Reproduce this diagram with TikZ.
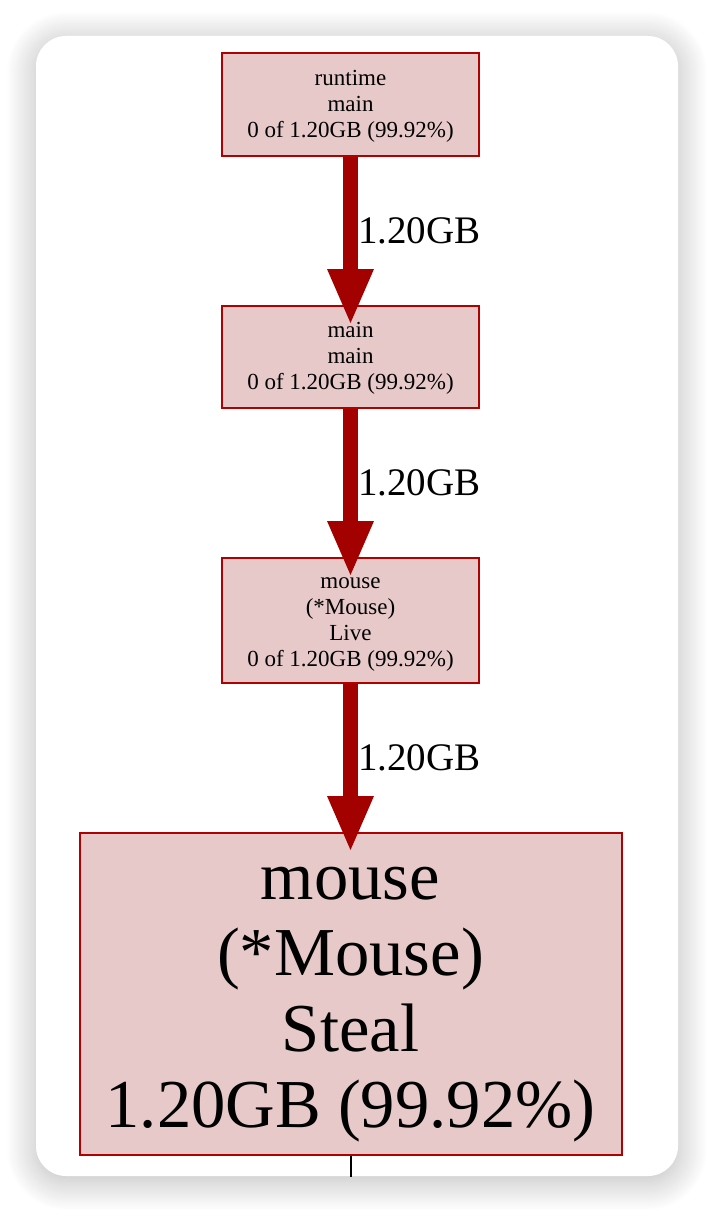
\documentclass[tikz,border=0pt]{standalone}
\usepackage{fontspec}
\setmainfont{Liberation Serif}
\usepackage{tikz}
\usepackage{color}
\usetikzlibrary{positioning,arrows.meta,shadows.blur}
\definecolor{edgered}{HTML}{A30000}
\definecolor{boxred}{HTML}{B00000}
\definecolor{boxfill}{HTML}{E8C9C9}

\begin{document}
\begin{tikzpicture}[x=1pt,y=1pt,
            func/.style={
                rectangle, draw=boxred, fill=boxfill, line width=2pt,
                minimum width=257pt, inner sep=0pt, align=center,
                font=\fontsize{23}{26}\selectfont},
            leaf/.style={func, minimum width=542pt, minimum height=322pt,
                font=\fontsize{68.6}{76}\selectfont},
            flow/.style={draw=edgered, line width=15pt, shorten >=-18pt,
                -{Triangle[width=47pt,length=54pt,line width=0pt]}},
            weight/.style={right, inner sep=0pt,
                font=\fontsize{39}{39}\selectfont},
            node distance=148pt]

            \useasboundingbox (0,0) rectangle (714,-1212);
            \fill [white, rounded corners=30pt,
                blur shadow={shadow xshift=0pt, shadow yshift=-5pt,
                shadow blur radius=30pt, shadow blur steps=40,
                shadow opacity=28}]
                (36,-36) rectangle (678,-1176);

            \node [func, minimum height=103pt] (n0) at (350.5,-104.5)
                {\strut runtime\\main\\0 of 1.20GB (99.92\%)};
            \node [func, minimum height=102pt, below=of n0] (n1)
                {\strut main\\main\\0 of 1.20GB (99.92\%)};
            \node [func, minimum height=125pt, below=of n1] (n2)
                {\strut mouse\\(*Mouse)\\Live\\0 of 1.20GB (99.92\%)};
            \node [leaf, below=of n2] (n3)
                {\strut mouse\\(*Mouse)\\Steal\\1.20GB (99.92\%)};

            \draw [flow] (n0) -- node [weight] {1.20GB} (n1);
            \draw [flow] (n1) -- node [weight] {1.20GB} (n2);
            \draw [flow] (n2) -- node [weight] {1.20GB} (n3);

            \coordinate [below=21pt of n3.south] (cut);
            \draw [line width=2pt] (n3) -- (cut);

        \end{tikzpicture}
\end{document}
